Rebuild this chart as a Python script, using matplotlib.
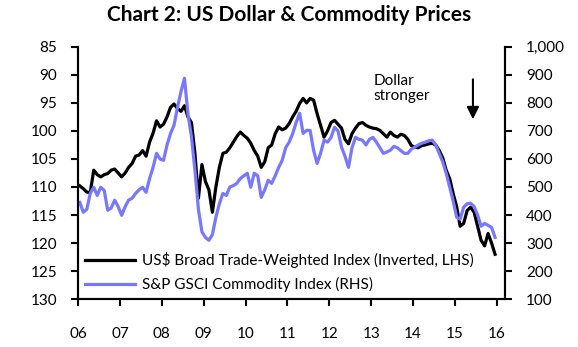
import numpy as np
import matplotlib
matplotlib.use('Agg')
import matplotlib.pyplot as plt

plt.rcParams['font.family'] = ['Lato', 'DejaVu Sans']

# monthly readings, Jan 2006 - Dec 2015
usd_index = [
    109.8, 110.3, 110.9, 111.0, 107.0, 107.8, 108.2, 107.8, 107.6, 107.0, 106.8, 107.5,  # 2006
    108.2, 107.5, 106.5, 105.8, 104.5, 104.3, 103.5, 104.5, 102.0, 100.4, 98.2, 99.3,    # 2007
    98.8, 97.5, 95.8, 95.2, 96.0, 96.5, 95.5, 97.5, 98.5, 104.0, 112.0, 106.0,           # 2008
    109.0, 110.5, 114.5, 110.0, 106.5, 104.0, 103.8, 103.0, 102.0, 101.0, 100.2, 100.8,  # 2009
    101.3, 102.2, 103.5, 104.5, 106.5, 105.5, 103.0, 102.5, 100.5, 99.3, 99.8, 99.5,     # 2010
    98.7, 97.5, 96.5, 95.1, 94.2, 95.0, 94.2, 94.5, 96.9, 99.0, 101.1, 100.0,            # 2011
    98.5, 98.1, 98.8, 99.5, 101.5, 102.3, 100.5, 99.5, 98.7, 98.5, 99.0, 99.3,           # 2012
    99.5, 99.6, 99.9, 100.5, 101.1, 100.2, 100.8, 101.1, 100.6, 100.8, 101.5, 102.6,     # 2013
    102.9, 103.0, 102.6, 102.5, 102.3, 102.2, 102.5, 103.5, 104.8, 107.0, 108.5, 111.2,  # 2014
    113.5, 117.0, 116.5, 114.2, 113.6, 114.5, 117.0, 119.5, 120.5, 118.3, 120.0, 122.0,  # 2015
]
gsci_index = [
    445, 410, 420, 477, 499, 470, 499, 488, 417, 425, 453, 430,    # 2006
    399, 430, 453, 460, 477, 490, 499, 481, 530, 570, 620, 600,    # 2007
    595, 650, 691, 720, 784, 840, 888, 760, 680, 560, 420, 340,    # 2008
    320, 310, 330, 392, 440, 477, 470, 500, 505, 513, 530, 540,    # 2009
    549, 499, 549, 540, 463, 490, 524, 513, 540, 570, 595, 640,    # 2010
    660, 690, 730, 763, 691, 702, 702, 631, 584, 620, 667, 660,    # 2011
    677, 713, 700, 642, 610, 570, 640, 677, 670, 667, 650, 670,    # 2012
    677, 660, 640, 620, 625, 631, 645, 640, 630, 620, 620, 635,    # 2013
    642, 650, 656, 660, 665, 667, 650, 620, 590, 549, 500, 450,    # 2014
    392, 385, 428, 440, 442, 430, 400, 360, 370, 363, 356, 320,    # 2015
]
years = list(range(2006, 2017))
year_labels = ['06', '07', '08', '09', '10', '11', '12', '13', '14', '15', '16']
left_ticks = [85, 90, 95, 100, 105, 110, 115, 120, 125, 130]
right_ticks = [100, 200, 300, 400, 500, 600, 700, 800, 900, 1000]

dates = 2006 + (np.arange(len(usd_index)) + 0.5) / 12

fig = plt.figure(figsize=(5.78, 3.47), dpi=100)
ax = fig.add_axes([0.135, 0.138, 0.739, 0.727])
ax2 = ax.twinx()

blue = '#7878ff'
l1, = ax.plot(dates, usd_index, color='black', lw=2.3)
l2, = ax2.plot(dates, gsci_index, color=blue, lw=2.3)

ax.set_ylim(130, 85)
ax2.set_ylim(100, 1000)
ax.set_xlim(2006, 2016.2)
ax.set_yticks(left_ticks)
ax2.set_yticks(right_ticks)
ax2.set_yticklabels([f'{v:,}' for v in right_ticks])
ax.set_xticks(years)
ax.set_xticklabels(year_labels)

for a in (ax, ax2):
    a.spines['top'].set_visible(False)
    for s in a.spines.values():
        s.set_linewidth(1.5)
ax.tick_params(axis='y', direction='out', length=5, width=1.5, pad=10, labelsize=11)
ax2.tick_params(axis='y', direction='out', length=5, width=1.5, pad=10, labelsize=11)
ax.tick_params(axis='x', direction='out', length=5, width=1.5, pad=15, labelsize=11)

fig.text(0.5, 0.956, 'Chart 2: US Dollar & Commodity Prices', ha='center', va='center',
         fontsize=15, fontweight='bold')

ax.text(2013.06, 89.8, 'Dollar\nstronger', ha='left', va='top', fontsize=11, linespacing=1.1)
ax.annotate('', xy=(2015.43, 98.4), xytext=(2015.43, 90.3),
            arrowprops=dict(arrowstyle='-|>', color='black', lw=1.5, mutation_scale=18))

ax2.legend([l1, l2], ['US$ Broad Trade-Weighted Index (Inverted, LHS)',
                      'S&P GSCI Commodity Index (RHS)'],
           loc='lower left', frameon=False, fontsize=11, handlelength=3.3,
           handletextpad=0.45, labelspacing=0.6, bbox_to_anchor=(0.0, 0.0),
           borderaxespad=0.05)

fig.savefig('out.png', dpi=100)
